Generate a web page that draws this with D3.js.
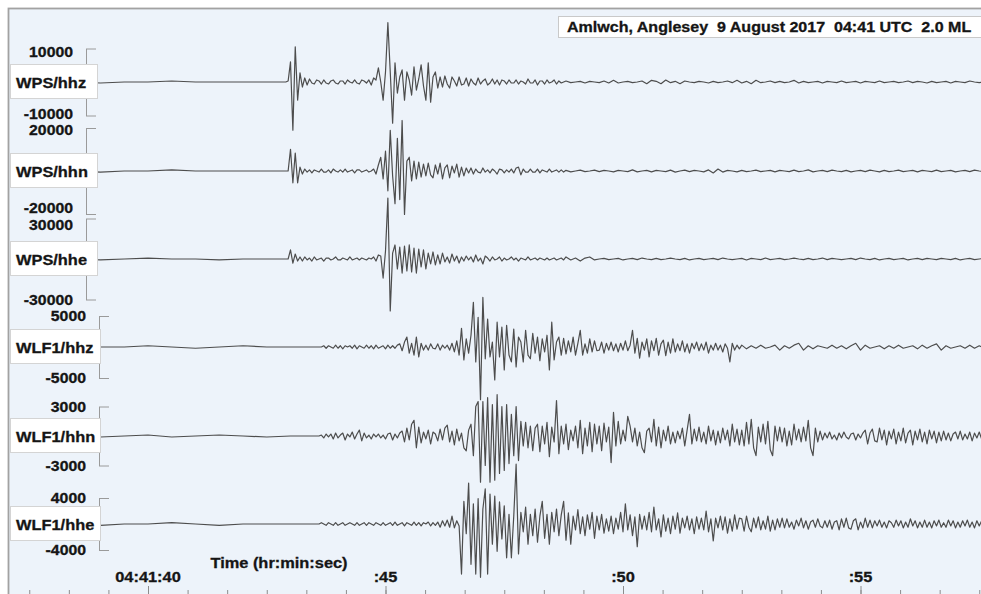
<!DOCTYPE html>
<html>
<head>
<meta charset="utf-8">
<script src="https://cdn.jsdelivr.net/npm/d3@7"></script>
<style>
  html, body { margin: 0; padding: 0; background: #fff; }
  svg { display: block; }
  text { font-family: "Liberation Sans", Arial, sans-serif; font-weight: bold; fill: #151515; stroke: #151515; stroke-width: 0.3px; }
</style>
</head>
<body>
<div id="chart"></div>
<script>
// seismogram samples are stored in hundreds of counts
const UNIT = 100;

const stations = ["WPS/hhz", "WPS/hhn", "WPS/hhe", "WLF1/hhz", "WLF1/hhn", "WLF1/hhe"];
const axisMax = [10000, 20000, 30000, 5000, 3000, 4000];
const title = "Amlwch, Anglesey  9 August 2017  04:41 UTC  2.0 ML";
const timeTicks = [40, 45, 50, 55];
const timeLabels = ["04:41:40", ":45", ":50", ":55"];

// seconds after 04:41:00
const quietStart = 37.0, quietStep = 0.5;
const waveStart = [42.5, 42.5, 42.5, 43.5, 43.5, 43.5], waveStep = 0.05;
const codaStart = [48.8, 48.8, 48.8, 52.5, 52.5, 52.5];
const codaStep = [0.1, 0.1, 0.1, 0.1, 0.05, 0.05];

const wpsHhzQuiet = [0,3,0,0,-3,0,0,3,0,0,0];
const wpsHhzWave = [0,0,0,0,0,0,0,0,0,3,
  60,-144,105,-54,27,-15,12,-9,
  9,-3,-6,6,3,-6,6,-3,-6,3,6,-3,-6,3,3,-6,6,0,-3,6,-3,-6,6,3,-3,6,
  -9,12,6,42,0,-54,30,177,30,-123,57,-33,15,36,-54,30,6,-39,45,-24,9,51,-12,-54,57,-60,15,30,-18,15,
  -15,18,-6,-18,15,3,-12,15,-9,-6,12,-12,9,-3,-9,12,-6,3,9,-9,-3,9,-6,6,-9,6,3,
  -6,6,-3,-3,6,-6,3,0,-6,9,-3,-3,6,-9,3,3,-6,6,-3,0,6,-6,3,-3,0];
const wpsHhzCoda = [3,-2,0,2,-3,2,0,-2,3,-3,5,-3,0,2,-2,0,3,-5,5,2,
  -5,6,-2,2,-5,3,0,-2,2,0,-3,2,-2,0,3,-2,5,-3,2,-5,
  5,-2,0,3,-2,2,-2,0,5,-3,2,-2,0,2,-3,2,0,-2,3,-2,
  0,2,-3,2,0,-2,3,-2,0,2,-2,0,3,-2,2,0,-3,2,-2,0,2,-3,2,0,-2,3,0,-2,0];

const wpsHhnQuiet = [0,0,5,0,-5,0,0,5,0,0,0];
const wpsHhnWave = [0,0,0,0,0,0,0,0,0,0,
  101,-55,83,-55,18,-14,
  9,-5,5,-9,5,0,-5,9,-5,-5,5,-9,9,0,-5,5,-5,9,-5,0,5,-9,5,5,-5,0,5,-5,0,
  9,-14,28,64,-37,92,-92,189,-23,-152,152,-133,235,-202,46,64,-46,46,-37,41,-28,32,-23,37,-18,
  -32,28,-14,37,-37,14,28,-32,23,-9,32,-28,18,-23,14,-9,
  14,-14,9,-5,-9,14,-5,5,-9,9,0,-14,9,5,-9,5,-5,9,-9,14,18,-18,9,-5,-5,9,-5,-5,9,-9,5,0,-5,9,-5,0,5,-5,5,-5];
const wpsHhnCoda = [3,-4,0,4,-3,0,4,-3,3,0,-4,3,0,-3,5,-4,0,3,-4,3,
  0,-3,4,-5,0,4,-3,3,0,-4,5,-9,9,-5,3,0,-4,3,-3,0,
  4,-3,0,3,-4,3,0,-3,4,-3,0,5,-4,0,3,-3,4,0,-3,3,
  -4,0,3,-3,4,0,-4,3,-3,0,4,-3,0,3,-4,3,0,-3,4,-3,
  0,3,-4,0,3,-3,4,0,-3];

const wpsHheQuiet = [0,7,0,0,-7,0,7,0,0,-7,0];
const wpsHheWave = [0,0,0,0,0,0,0,0,0,0,
  67,-30,37,-15,15,-15,
  15,-7,7,-15,15,-7,0,7,-15,7,7,-7,0,15,-7,-7,7,0,-7,15,-7,0,7,-7,7,0,-7,7,0,
  15,-15,30,22,-141,59,451,-385,44,104,-74,89,-104,96,-89,104,-96,81,-104,74,-59,67,-74,44,-37,
  52,-44,30,-37,44,-22,15,-30,37,-15,22,-30,15,-15,22,-7,
  15,-22,30,-15,7,-37,22,7,-15,15,-7,0,15,-15,7,-7,0,15,-7,7,-15,7,0,-7,15,-7,0,7,-7,7,0,-7,7,-7,0,7,-7,0,7,-7];
const wpsHheCoda = [15,-7,7,-15,7,15,-7,0,5,-5,0,5,-7,0,5,-5,7,0,-5,5,
  -5,0,7,0,-5,5,-7,0,5,-5,0,5,-5,7,0,-5,0,5,-7,5,
  0,-5,7,-5,0,5,-5,0,7,0,-5,5,-5,0,7,-5,5,0,-5,0,
  5,-5,7,0,-5,5,-7,0,5,-5,0,5,-7,0,5,-5,5,0,-5,5,
  0,-5,5,-7,0,5,-5,0,5];

const wlfHhzQuiet = [0,2,0,-2,0,0,2,0,-2,0,2,0,0];
const wlfHhzWave = [0,0,0,0,
  2,-2,2,0,-2,3,-2,2,-3,2,0,2,-2,3,-3,2,0,-2,3,-2,2,-3,3,-2,0,2,-3,3,-2,2,-2,3,
  5,-6,8,16,-10,6,-13,16,-16,6,
  -5,3,-5,5,-2,-3,5,-5,3,-2,3,-5,6,
  -8,10,-13,30,-21,13,-10,
  19,72,-24,48,-85,80,-19,45,-16,8,-53,40,-16,32,
  -37,35,-13,-24,29,-32,16,8,-24,27,-13,
  -19,22,-10,16,-22,13,-8,19,-37,
  40,-21,8,16,-13,
  14,-11,10,-8,16,-13,6,27,-13,5,-10,13,-8,10,-6,-5,8,-10,6,-5,
  8,-6,5,-8,6,-5,10,-6,3,27,-10,
  14,-18,8,-5,13,-16,10,-6,14,-13,5,11,-14,8,-10,13,-8,5,
  -6,10,-8,5,-10,6,-3,8,-6,5,-5,8,-10,3,-5,6,-5,3,-8,5,-2,-24,6,-5,3,-3];
const wlfHhzCoda = [3,-3,2,-2,3,-2,0,3,-5,2,-2,3,6,-5,2,-3,2,0,-2,3,
  -2,2,-3,2,6,-5,3,-2,0,2,-3,2,-2,3,-2,0,2,-3,3,-2,
  2,5,-5,2,-2,0,2,-2,3,-2,2,-2];

const wlfHhnQuiet = [0,-1,1,0,-1,0,1,-1,0,1,0,-1,0];
const wlfHhnWave = [0,0,0,
  1,-2,2,-1,2,-3,3,-2,1,3,-4,2,-1,4,-3,2,6,-5,3,-2,1,-3,2,-1,2,-2,1,-3,2,3,-4,2,-2,3,
  5,-6,8,-4,12,16,-12,9,-7,4,
  -3,6,-8,4,2,-5,7,-4,8,11,-6,5,-9,7,-5,3,-12,-15,6,
  12,-20,30,35,-47,35,-30,39,-47,32,-45,42,-38,30,-35,32,-28,22,-20,30,-25,15,-10,
  14,-12,10,-15,8,12,-16,10,-8,14,-21,9,-6,36,-18,10,-8,12,-14,6,-5,10,-12,16,-18,8,-10,14,-16,12,-8,10,-15,13,-6,9,
  -27,24,-10,15,-8,6,-5,20,10,-6,8,-10,4,-12,-17,5,
  8,-6,17,-10,9,-12,6,-5,10,-8,4,-7,5,
  -3,8,-10,6,22,-8,7,-5,9,-6,4,-8,10,-5,6,-9,5,
  -7,8,-4,6,-10,12,-6,7,-9];
const wlfHhnCoda = [6,-10,14,-8,17,-12,-20,9,-6,12,-8,15,-14,-20,10,-5,9,-6,
  8,-10,5,-9,12,-4,7,-6,9,-5,16,-12,-20,8,-6,5,-4,
  3,-2,4,-3,1,-4,3,-2,4,-1,-3,2,3,-4,2,-2,3,
  6,-8,3,7,-5,-6,8,-4,6,-9,5,-3,7,-8,4,-5,8,-7,3,6,-9,5,-4,7,-6,4,-8,6,-3,5,-7,4,-5,
  5,-4,3,-5,2,4,-3,5,-4,2,-3,4,-5,3,-2,4,-3,2];

const wlfHheQuiet = [0,0,2,0,-2,0,0,2,0,-2,0,0,0];
const wlfHheWave = [0,0,0,
  2,0,-2,2,0,-2,2,-2,0,2,-2,0,2,0,-2,2,-2,0,2,-2,2,0,-2,2,0,-2,2,-2,0,2,
  -2,3,-2,0,2,-3,2,0,-2,3,-2,2,-3,2,0,3,-3,2,-2,3,
  -5,5,-3,6,-5,12,-6,5,-3,
  -77,35,-15,63,-62,31,-77,39,-82,23,54,-77,46,-31,43,-42,34,-23,28,-52,15,-52,12,92,-46,18,-12,
  26,-31,15,-18,23,-28,12,35,-22,15,-31,18,-12,23,-18,14,35,-25,17,-31,12,-9,22,-15,11,-18,14,-8,18,-22,12,-9,15,-14,8,-11,
  12,-15,9,-8,18,-12,31,-9,14,-18,11,-35,15,-8,12,-9,
  18,-12,26,-9,8,-20,14,-11,9,-15,12,-8,17,-14,9,-6,12,-9,8,-15,11,-8,9,
  -9,20,-12,8,-26,9,-6,12,-9,11,-14,8,-11,14,-8,9];
const wlfHheCoda = [8,-11,12,-5,-12,9,-6,11,-9,5,-8,12,-11,6,-9,8,-5,9,
  -6,8,-5,3,-8,6,-3,9,-6,5,-8,3,6,-5,8,-3,-6,5,-5,6,-8,3,5,
  -9,8,-5,9,-6,-8,5,8,-9,3,-6,9,-5,6,
  -6,5,-3,6,-5,3,-6,5,2,-5,6,-3,5,-6,3,-5,8,-3,5,-6,3,-5,6,-5,3,-6,5,-3,6,-5,2,-5,6,-3,5,-6,3,-5,5,-3,6,-5,3,-6,5,-3,5,-3];

const quietSets = [wpsHhzQuiet, wpsHhnQuiet, wpsHheQuiet, wlfHhzQuiet, wlfHhnQuiet, wlfHheQuiet];
const waveSets = [wpsHhzWave, wpsHhnWave, wpsHheWave, wlfHhzWave, wlfHhnWave, wlfHheWave];
const codaSets = [wpsHhzCoda, wpsHhnCoda, wpsHheCoda, wlfHhzCoda, wlfHhnCoda, wlfHheCoda];

// layout
const W = 981, H = 594;
const baseY = [82, 171, 259, 347, 436, 524];
const halfH = [33.5, 43, 40.5, 31, 29.5, 26];
const axisX = [86, 86, 86, 99, 99, 99];
const boxW = [87, 87, 87, 90, 90, 90];
const SX = 1.13; // the reference text is drawn a little wide
const LABEL_GAP = 16.5;

function series(i) {
  const pts = [];
  quietSets[i].forEach((v, j) => pts.push([quietStart + j * quietStep, v]));
  waveSets[i].forEach((v, j) => pts.push([waveStart[i] + j * waveStep, v]));
  codaSets[i].forEach((v, j) => pts.push([codaStart[i] + j * codaStep[i], v]));
  return pts;
}

function wideText(parent, str, tx, ty, size, anchor) {
  return parent.append("text")
    .attr("transform", "translate(" + tx + "," + ty + ") scale(" + SX + ",1)")
    .attr("text-anchor", anchor || "start")
    .style("font-size", size + "px")
    .style("white-space", "pre")
    .text(str);
}

const x = d3.scaleLinear().domain([40, 45]).range([148, 385.5]);

const svg = d3.select("#chart").append("svg")
  .attr("width", W)
  .attr("height", H);

svg.append("rect").attr("width", W).attr("height", H).attr("fill", "#fff");
svg.append("rect")
  .attr("x", 8.5).attr("y", 8.5)
  .attr("width", W + 20).attr("height", H + 20)
  .attr("fill", "#edf3fa")
  .attr("stroke", "#a2a2a2")
  .attr("stroke-width", 1.8);

svg.append("clipPath").attr("id", "plotClip")
  .append("rect").attr("x", 95).attr("y", 10).attr("width", W).attr("height", H);

const traceG = svg.append("g").attr("clip-path", "url(#plotClip)");

const yScales = stations.map((name, i) => d3.scaleLinear()
  .domain([-axisMax[i], axisMax[i]])
  .range([baseY[i] + halfH[i], baseY[i] - halfH[i]]));

// amplitude labels sit on their ticks, pushed apart where two stack up
const ampLabels = [];
stations.forEach((name, i) => {
  ampLabels.push({ text: String(axisMax[i]), x: axisX[i] - 13, cy: yScales[i](axisMax[i]) });
  ampLabels.push({ text: String(-axisMax[i]), x: axisX[i] - 13, cy: yScales[i](-axisMax[i]) });
});
ampLabels[0].cy += 3;
for (let k = 1; k + 1 < ampLabels.length; k += 2) {
  const a = ampLabels[k], b = ampLabels[k + 1];
  const gap = b.cy - a.cy;
  if (gap < LABEL_GAP) {
    const push = (LABEL_GAP - gap) / 2;
    a.cy -= push;
    b.cy += push;
  }
}

stations.forEach((name, i) => {
  const y = yScales[i];

  const line = d3.line()
    .x(d => x(d[0]))
    .y(d => y(d[1] * UNIT));

  traceG.append("path")
    .datum(series(i))
    .attr("d", line)
    .attr("fill", "none")
    .attr("stroke", "#4d4d4d")
    .attr("stroke-width", 1.2)
    .attr("stroke-linejoin", "round");

  // small amplitude axis
  const ax = svg.append("g")
    .attr("transform", "translate(" + axisX[i] + ",0)")
    .call(d3.axisLeft(y).tickValues([-axisMax[i], axisMax[i]]).tickSize(-10).tickSizeOuter(0).tickFormat(""));
  ax.selectAll("path, line").attr("stroke", "#9a9a9a");

  // station label box
  svg.append("rect")
    .attr("x", 10.5).attr("y", baseY[i] - 17.5)
    .attr("width", boxW[i]).attr("height", 34)
    .attr("fill", "#fff")
    .attr("stroke", "#d4d4d4");
  wideText(svg, name, 16, baseY[i] + 5.5, 14.5, "start");
});

ampLabels.forEach(d => wideText(svg, d.text, d.x, d.cy + 5, 14, "end"));

// time axis ticks rising from below the frame
const minorTicks = d3.range(0, 26).map(k => 37.5 + k * 5 / 6);
const tAxisMinor = svg.append("g")
  .attr("transform", "translate(0," + (H + 2) + ")")
  .call(d3.axisTop(x).tickValues(minorTicks).tickSize(6).tickSizeOuter(0).tickFormat(""));
const tAxisMajor = svg.append("g")
  .attr("transform", "translate(0," + (H + 2) + ")")
  .call(d3.axisTop(x).tickValues(timeTicks).tickSize(10).tickSizeOuter(0).tickFormat(""));
[tAxisMinor, tAxisMajor].forEach(g => {
  g.selectAll("line").attr("stroke", "#8c8c8c");
  g.select(".domain").attr("stroke", "#8c8c8c");
});

timeTicks.forEach((t, i) => {
  wideText(svg, timeLabels[i], x(t), 582, 14.5, "middle");
});
wideText(svg, "Time (hr:min:sec)", 279, 568, 14.5, "middle");

// event title
svg.append("rect")
  .attr("x", 558.5).attr("y", 16.5)
  .attr("width", 440).attr("height", 21)
  .attr("fill", "#fff")
  .attr("stroke", "#c9c9c9");
wideText(svg, title, 567, 32, 14.2, "start");
</script>
</body>
</html>
